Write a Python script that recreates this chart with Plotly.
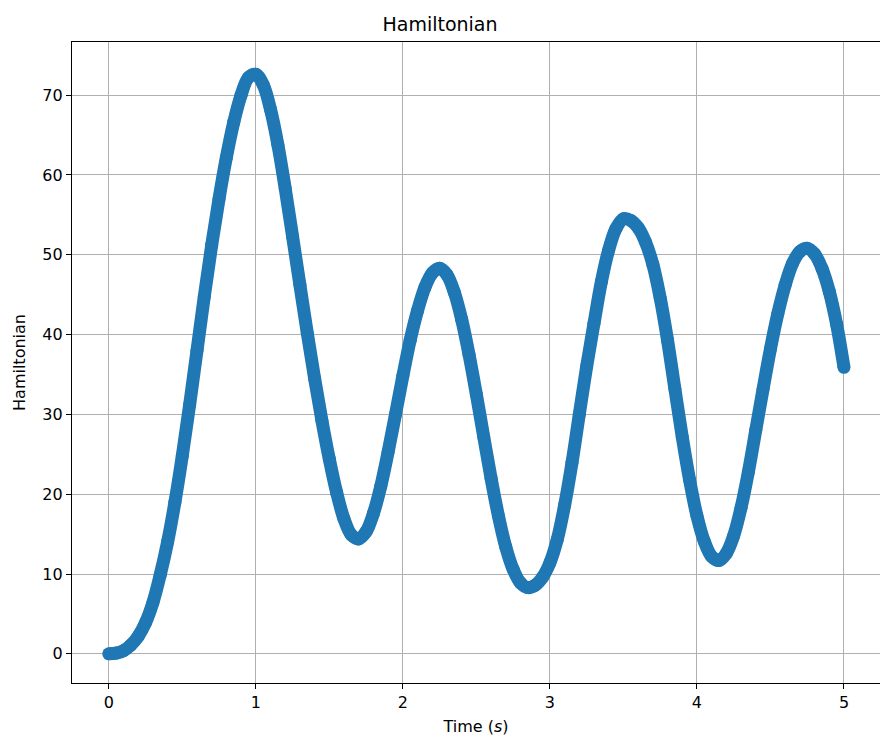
import plotly.graph_objects as go

# Time (s) and Hamiltonian values
time_s = [0.00, 0.05, 0.10, 0.15, 0.20, 0.25, 0.30, 0.35, 0.40, 0.45,
          0.50, 0.55, 0.60, 0.65, 0.70, 0.75, 0.80, 0.85, 0.90, 0.95,
          1.00, 1.05, 1.10, 1.15, 1.20, 1.25, 1.30, 1.35, 1.40, 1.45,
          1.50, 1.55, 1.60, 1.65, 1.70, 1.75, 1.80, 1.85, 1.90, 1.95,
          2.00, 2.05, 2.10, 2.15, 2.20, 2.25, 2.30, 2.35, 2.40, 2.45,
          2.50, 2.55, 2.60, 2.65, 2.70, 2.75, 2.80, 2.85, 2.90, 2.95,
          3.00, 3.05, 3.10, 3.15, 3.20, 3.25, 3.30, 3.35, 3.40, 3.45,
          3.50, 3.55, 3.60, 3.65, 3.70, 3.75, 3.80, 3.85, 3.90, 3.95,
          4.00, 4.05, 4.10, 4.15, 4.20, 4.25, 4.30, 4.35, 4.40, 4.45,
          4.50, 4.55, 4.60, 4.65, 4.70, 4.75, 4.80, 4.85, 4.90, 4.95,
          5.00]
hamiltonian = [0.0, 0.1, 0.4, 1.1, 2.2, 3.9, 6.4, 9.9, 14.0, 19.0,
               24.8, 31.2, 38.0, 44.8, 51.2, 57.0, 62.2, 66.6, 70.0, 72.2,
               72.6, 71.3, 68.2, 63.8, 58.3, 52.3, 46.2, 40.2, 34.5, 29.2,
               24.4, 20.2, 16.9, 14.9, 14.4, 15.3, 17.6, 21.0, 25.3, 30.0,
               34.8, 39.3, 43.0, 45.9, 47.7, 48.3, 47.5, 45.3, 41.9, 37.5,
               32.5, 27.2, 22.0, 17.3, 13.4, 10.6, 8.9, 8.3, 8.6, 9.6,
               11.4, 14.3, 18.6, 23.9, 30.0, 36.0, 41.4, 46.6, 50.6, 53.3,
               54.5, 54.3, 53.4, 51.6, 48.8, 44.6, 39.3, 33.2, 27.2, 21.8,
               17.3, 14.1, 12.2, 11.7, 12.6, 14.8, 18.3, 22.8, 28.0, 33.2,
               38.2, 42.6, 46.2, 48.9, 50.4, 50.8, 50.1, 48.3, 45.4, 41.3,
               35.9]

x_ticks = [0, 1, 2, 3, 4, 5]
y_ticks = [0, 10, 20, 30, 40, 50, 60, 70]

blue = "#1f77b4"
font = "DejaVu Sans"

fig = go.Figure()
fig.add_trace(go.Scatter(
    x=time_s, y=hamiltonian,
    mode="lines+markers",
    line=dict(color=blue, width=13, shape="spline", smoothing=1.0),
    marker=dict(color=blue, size=13, line=dict(width=0)),
    showlegend=False,
))

axis_common = dict(
    showgrid=True, gridcolor="#b0b0b0", gridwidth=1,
    zeroline=False,
    showline=True, linecolor="black", linewidth=1.3,
    ticks="outside", ticklen=5, tickwidth=1.2, tickcolor="black",
    tickfont=dict(family=font, size=16, color="black"),
)

fig.update_layout(
    width=880, height=738,
    paper_bgcolor="white", plot_bgcolor="white",
    margin=dict(l=72, r=0, t=42, b=55),
    font=dict(family=font, color="black"),
    title=dict(text="Hamiltonian", x=0.5, xanchor="center",
               y=1 - 24 / 738, yanchor="middle",
               font=dict(family=font, size=19, color="black")),
    xaxis=dict(range=[-0.25, 5.245], tickvals=x_ticks,
               ticktext=[str(v) for v in x_ticks], mirror=True,
               title=dict(text="Time (<i>s</i>)", standoff=9,
                          font=dict(family=font, size=16, color="black")),
               **axis_common),
    yaxis=dict(range=[-3.65, 76.65], tickvals=y_ticks,
               ticktext=[str(v) for v in y_ticks], mirror=False,
               title=dict(text="Hamiltonian", standoff=12,
                          font=dict(family=font, size=16, color="black")),
               **axis_common),
)

fig.write_html("out.html")
